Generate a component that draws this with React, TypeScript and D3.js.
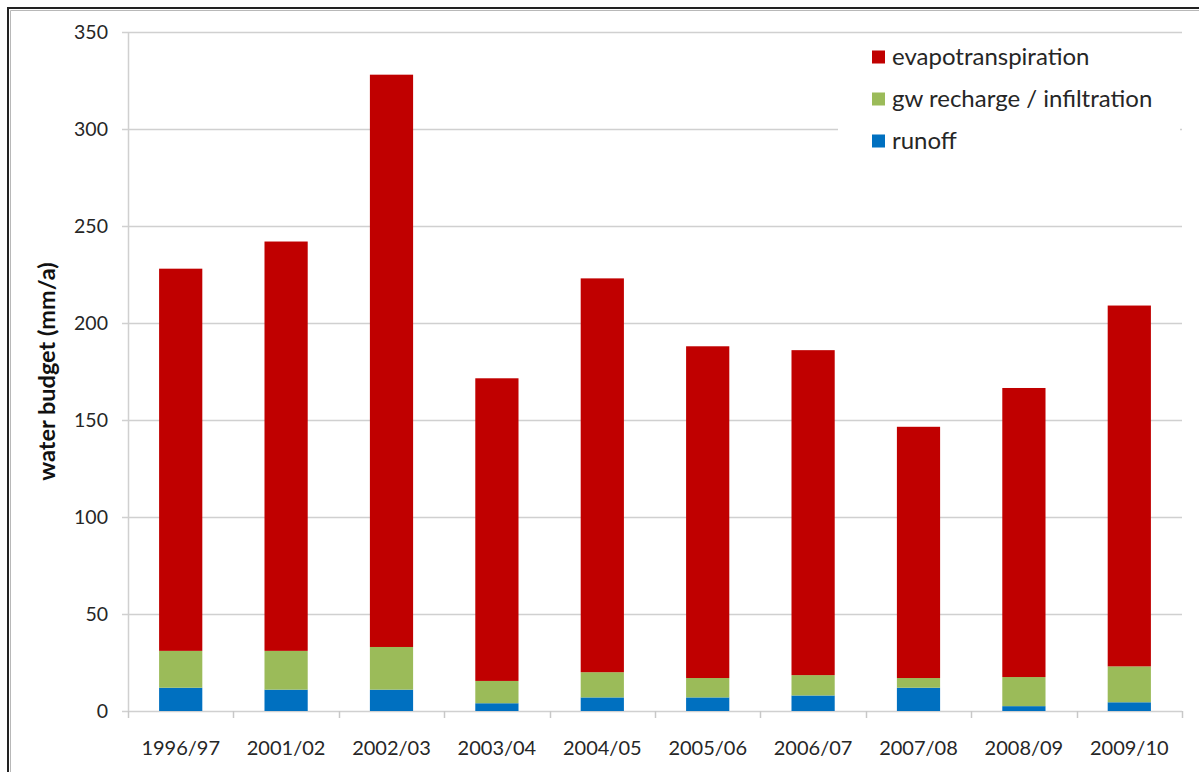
import * as d3 from "d3";
import { useEffect, useRef } from "react";

const categories = [
  "1996/97",
  "2001/02",
  "2002/03",
  "2003/04",
  "2004/05",
  "2005/06",
  "2006/07",
  "2007/08",
  "2008/09",
  "2009/10"
];

const runoff = [12, 11, 11, 4, 7, 7, 8, 12, 2.5, 4.5];
const recharge = [19, 20, 22, 11.5, 13, 10, 10.5, 5, 15, 18.5];
const evapotranspiration = [197, 211, 295, 156, 203, 171, 167.5, 129.5, 149, 186];

const yTicks = [0, 50, 100, 150, 200, 250, 300, 350];

const seriesKeys = ["runoff", "recharge", "evapotranspiration"];
const seriesColors: Record<string, string> = {
  runoff: "#0070c0",
  recharge: "#9bbb59",
  evapotranspiration: "#c00000"
};
const legendItems = [
  { key: "evapotranspiration", label: "evapotranspiration" },
  { key: "recharge", label: "gw recharge / infiltration" },
  { key: "runoff", label: "runoff" }
];

export default function App() {
  const ref = useRef<SVGSVGElement | null>(null);

  useEffect(() => {
    if (!ref.current) {
      return;
    }
    const width = 1199;
    const height = 772;
    const left = 128;
    const right = 1182;
    const top = 32;
    const bottom = 711;
    const font = "Lato, 'Open Sans', sans-serif";

    const svg = d3.select(ref.current);
    svg.selectAll("*").remove();
    svg.attr("viewBox", `0 0 ${width} ${height}`);

    svg.append("rect").attr("width", width).attr("height", height).attr("fill", "#fff");

    // outer frame (top and left edges visible)
    svg
      .append("path")
      .attr("d", `M8,${height} V8 H${width}`)
      .attr("fill", "none")
      .attr("stroke", "#222")
      .attr("stroke-width", 2);
    svg
      .append("path")
      .attr("d", `M10.5,${height} V10.5 H${width}`)
      .attr("fill", "none")
      .attr("stroke", "#b8b8b8")
      .attr("stroke-width", 1);

    const x = d3.scaleBand().domain(categories).range([left, right]).paddingInner(0.59).paddingOuter(0.295);
    const band = d3.scaleBand().domain(categories).range([left, right]);
    const y = d3.scaleLinear().domain([0, 350]).range([bottom, top]);

    // gridlines + y labels
    yTicks.forEach((t) => {
      svg
        .append("line")
        .attr("x1", left - 6)
        .attr("x2", right)
        .attr("y1", Math.round(y(t)) + 0.5)
        .attr("y2", Math.round(y(t)) + 0.5)
        .attr("stroke", "#d0d0d0")
        .attr("stroke-width", 1.5);
      svg
        .append("text")
        .attr("x", left - 20)
        .attr("y", y(t))
        .attr("dy", "0.35em")
        .attr("text-anchor", "end")
        .attr("font-family", font)
        .attr("font-size", 19.5)
        .attr("fill", "#262626")
        .text(String(t));
    });

    // y axis line
    svg
      .append("line")
      .attr("x1", left + 0.5)
      .attr("x2", left + 0.5)
      .attr("y1", top)
      .attr("y2", bottom)
      .attr("stroke", "#d0d0d0")
      .attr("stroke-width", 1.5);

    // x tick marks
    const edges = categories.map((c) => band(c) as number).concat([right]);
    edges.forEach((e) => {
      svg
        .append("line")
        .attr("x1", Math.round(e) + 0.5)
        .attr("x2", Math.round(e) + 0.5)
        .attr("y1", bottom)
        .attr("y2", bottom + 7)
        .attr("stroke", "#c8c8c8")
        .attr("stroke-width", 1.5);
    });

    const table = categories.map((c, i) => ({
      category: c,
      runoff: runoff[i],
      recharge: recharge[i],
      evapotranspiration: evapotranspiration[i]
    }));
    const stacked = d3.stack<any>().keys(seriesKeys)(table);

    stacked.forEach((layer) => {
      svg
        .append("g")
        .selectAll("rect")
        .data(layer)
        .join("rect")
        .attr("x", (d: any) => x(d.data.category) as number)
        .attr("width", x.bandwidth())
        .attr("y", (d: any) => y(d[1]))
        .attr("height", (d: any) => y(d[0]) - y(d[1]))
        .attr("fill", seriesColors[layer.key]);
    });

    // x labels
    categories.forEach((c) => {
      svg
        .append("text")
        .attr("x", (band(c) as number) + band.bandwidth() / 2)
        .attr("y", 748)
        .attr("dy", "0.35em")
        .attr("text-anchor", "middle")
        .attr("font-family", font)
        .attr("font-size", 20)
        .attr("fill", "#262626")
        .text(c);
    });

    // y title
    svg
      .append("text")
      .attr("transform", `translate(47, ${(top + bottom) / 2}) rotate(-90)`)
      .attr("dy", "0.35em")
      .attr("text-anchor", "middle")
      .attr("font-family", font)
      .attr("font-weight", "bold")
      .attr("font-size", 23.5)
      .attr("fill", "#111")
      .text("water budget (mm/a)");

    // legend
    const legend = svg.append("g");
    legend.append("rect").attr("x", 838).attr("y", 38).attr("width", 342).attr("height", 127).attr("fill", "#fff");
    legendItems.forEach((item, i) => {
      const cy = 57 + i * 42;
      legend
        .append("rect")
        .attr("x", 872)
        .attr("y", cy - 6.5)
        .attr("width", 13)
        .attr("height", 13)
        .attr("fill", seriesColors[item.key]);
      legend
        .append("text")
        .attr("x", 892)
        .attr("y", cy)
        .attr("dy", "0.35em")
        .attr("font-family", font)
        .attr("font-size", 24)
        .attr("fill", "#262626")
        .text(item.label);
    });
  }, []);

  return (
    <svg
      ref={ref}
      width={1199}
      height={772}
      style={{ position: "absolute", left: 0, top: 0, display: "block" }}
      aria-label="water budget stacked bar chart"
    />
  );
}
